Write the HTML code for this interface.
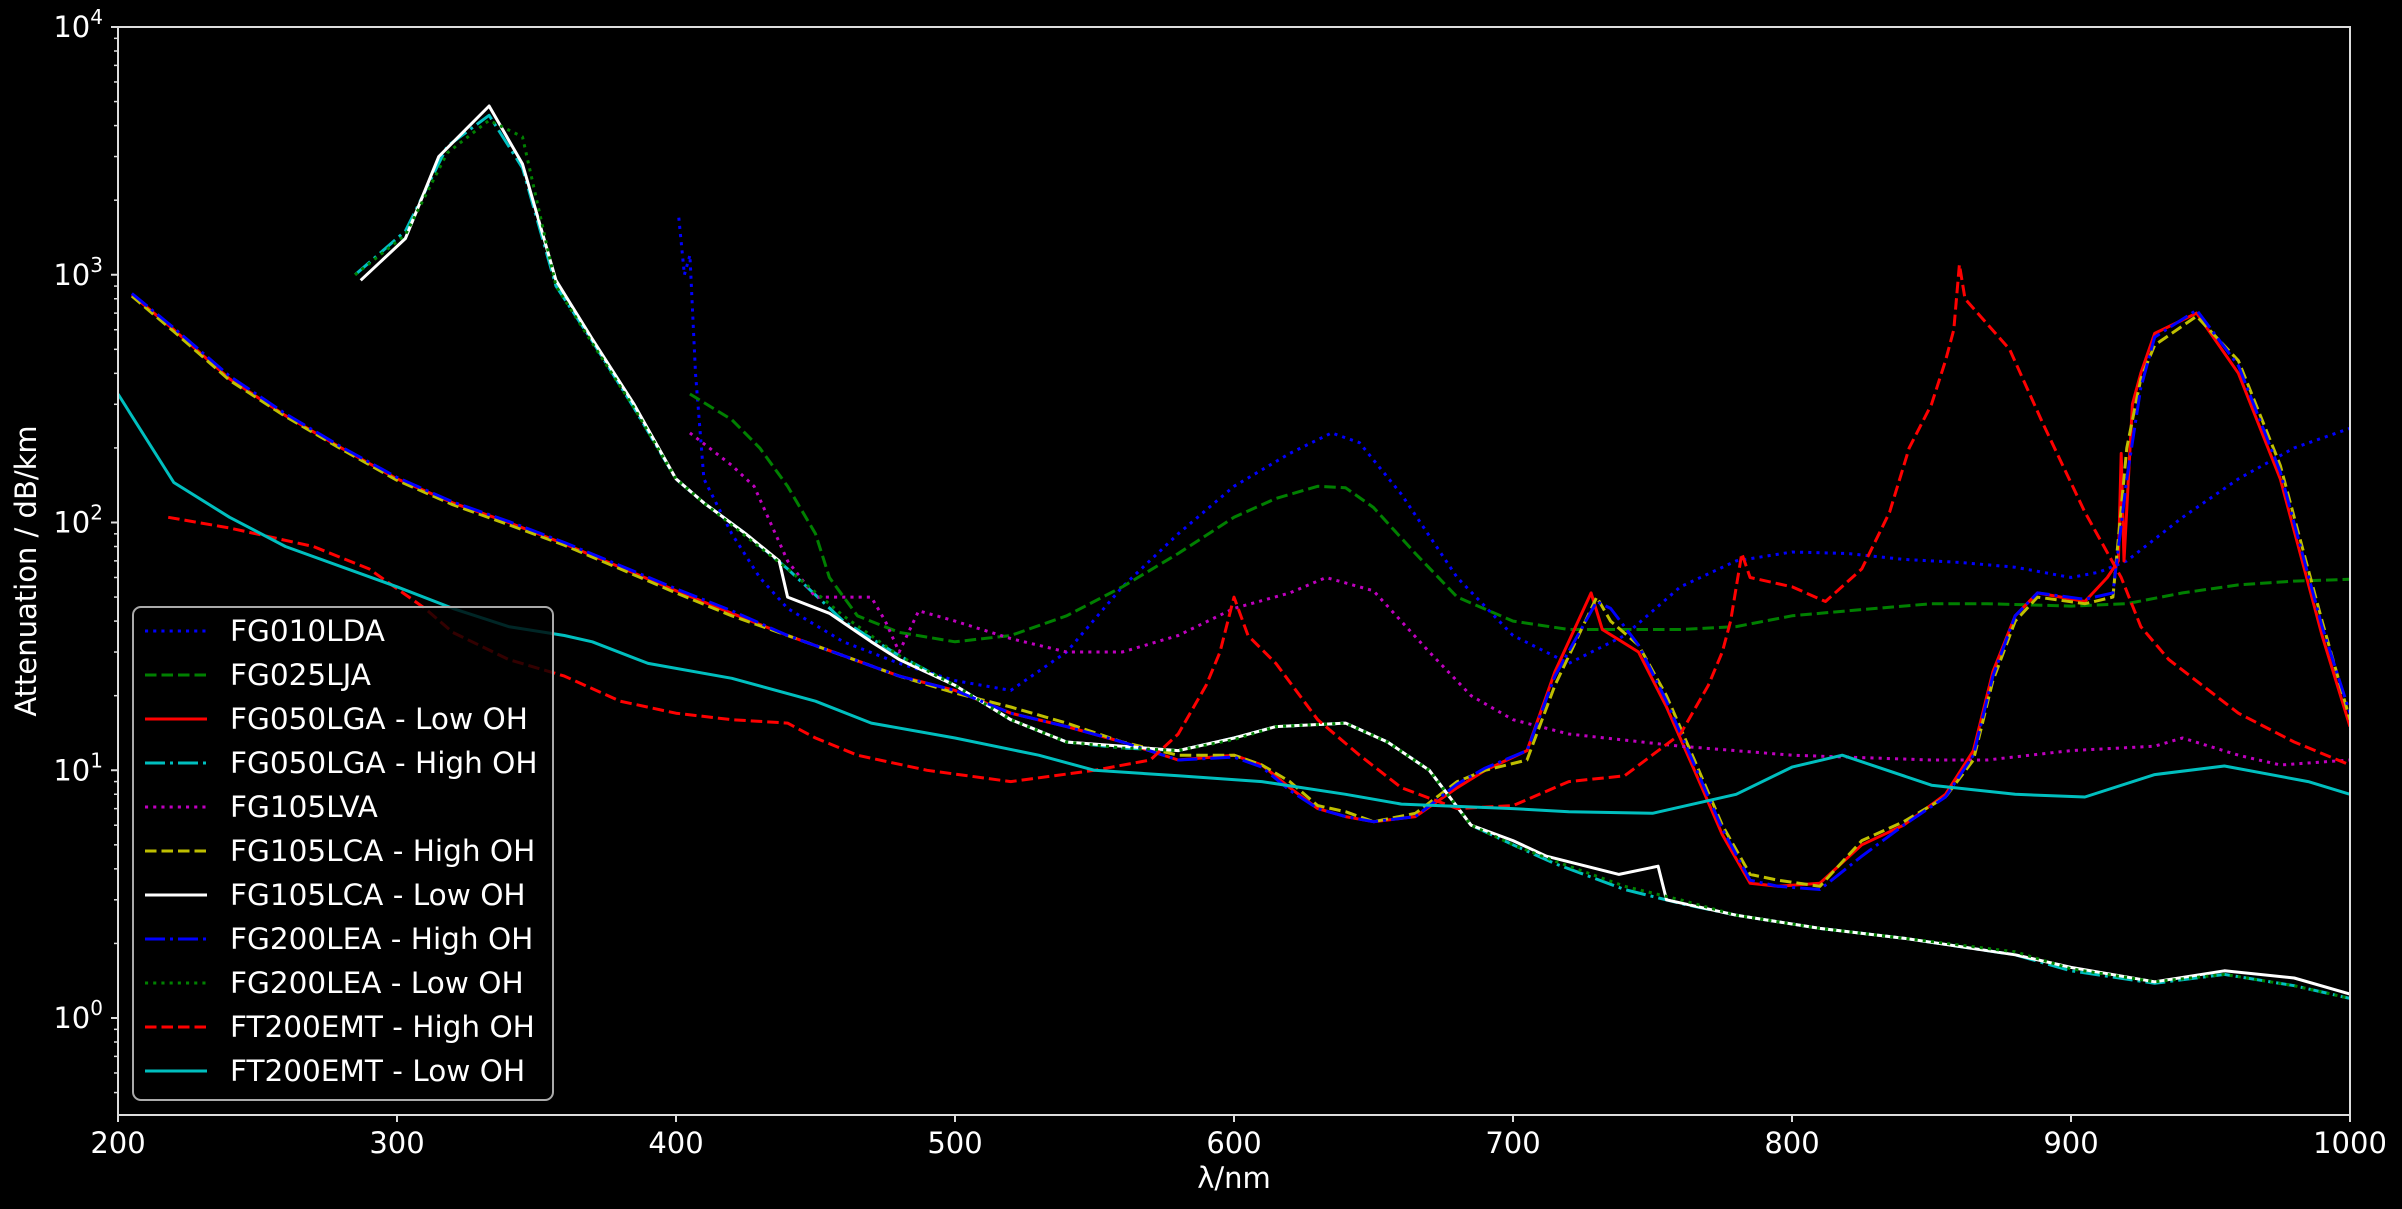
<!DOCTYPE html>
<html><head><meta charset="utf-8"><style>
html,body{margin:0;padding:0;background:#000;}
svg{display:block;font-family:"DejaVu Sans","Liberation Sans",sans-serif;}
</style></head><body>
<svg id="chart" width="2402" height="1209" viewBox="0 0 2402 1209" xmlns="http://www.w3.org/2000/svg">
<rect width="2402" height="1209" fill="#000"/>
<g id="plot"></g>
<g id="axes"></g>
<g id="legend"></g>
</svg>
<script>
const xTicks=[200,300,400,500,600,700,800,900,1000];
const yDecades=[0,1,2,3,4];
const names=["FG010LDA","FG025LJA","FG050LGA - Low OH","FG050LGA - High OH","FG105LVA","FG105LCA - High OH","FG105LCA - Low OH","FG200LEA - High OH","FG200LEA - Low OH","FT200EMT - High OH","FT200EMT - Low OH"];
const colors=["#0000ff","#008000","#ff0000","#00bfbf","#bf00bf","#bfbf00","#ffffff","#0000ff","#008000","#ff0000","#00bfbf"];
const styles=["dot","dash","solid","dashdot","dot","dash","solid","dashdot","dot","dash","solid"];
const wl0=[401,403,405,407,410,420,430,440,460,480,500,520,540,560,580,600,620,635,645,660,680,700,720,740,760,780,800,820,840,860,880,900,910,920,940,960,980,1000];
const at0=[1700,1000,1200,400,150,90,60,45,33,27,23,21,30,55,90,140,190,230,210,130,60,35,27,35,55,70,76,75,71,69,66,60,63,70,105,150,200,240];
const wl1=[405,420,430,440,450,455,465,480,500,520,540,560,580,600,615,630,640,650,665,680,700,720,760,780,800,820,850,870,900,920,940,960,980,1000];
const at1=[330,260,200,140,90,60,42,36,33,35,42,55,75,105,125,140,138,115,75,50,40,37,37,38,42,44,47,47,46,47,52,56,58,59];
const wl2=[205,220,240,260,280,300,320,340,360,380,400,420,440,460,480,500,520,540,560,580,600,610,620,630,640,650,665,680,690,705,715,728,732,745,755,765,775,785,795,810,825,840,855,865,872,880,888,905,913,917,918,919,922,925,930,945,960,975,990,1000];
const at2=[830,600,380,270,200,150,120,100,82,66,53,43,35,29,24,21,17,15,13,11,11.5,10.5,8.5,7,6.5,6.2,6.5,8.5,10,12,25,52,37,30,18,10,5.5,3.5,3.4,3.5,5,6,8,12,25,42,52,48,60,70,190,70,300,400,580,700,400,150,35,15];
const wl3=[285,303,318,333,345,357,370,385,400,410,425,440,460,480,500,520,540,560,580,600,615,640,655,670,685,700,715,740,760,780,810,840,880,900,930,955,980,1000];
const at3=[1000,1500,3300,4400,2700,900,540,290,150,120,90,65,40,29,22,16,13,12.3,12,13.5,15,15.5,13,10,6,5,4.2,3.3,2.9,2.6,2.3,2.1,1.8,1.55,1.38,1.5,1.35,1.2];
const wl4=[405,420,428,440,450,470,475,480,487,500,520,540,560,580,600,620,633,650,670,685,700,720,760,800,850,870,900,930,940,960,975,1000];
const at4=[230,170,140,70,50,50,40,30,44,40,34,30,30,35,45,52,60,53,30,20,16,14,12.5,11.5,11,11,12,12.5,13.5,11.5,10.5,11];
const wl5=[205,220,240,260,280,300,320,340,360,380,400,420,440,460,480,500,520,540,560,580,600,610,620,630,640,650,665,680,690,705,715,730,735,745,755,765,775,785,795,810,825,840,855,865,872,880,888,905,915,920,925,930,945,960,975,990,1000];
const at5=[820,590,375,268,198,148,118,98,81,65,52,42,35,29,24,20.5,18,15.5,13,11.5,11.5,10.5,9,7.2,6.8,6.2,6.7,9,10,11,22,50,40,32,20,11,6,3.8,3.6,3.4,5.2,6.2,7.8,11,23,40,50,47,50,200,380,520,680,450,170,40,16];
const wl6=[287,303,315,333,345,357,370,385,400,410,425,437,440,455,470,480,500,520,540,560,580,600,615,640,655,670,685,700,712,738,752,755,780,810,840,880,900,930,955,980,1000];
const at6=[950,1400,3000,4800,2800,950,550,300,150,120,90,70,50,43,33,28,22,16,13,12.5,12,13.5,15,15.5,13,10,6,5.2,4.5,3.8,4.1,3,2.6,2.3,2.1,1.8,1.6,1.4,1.55,1.45,1.25];
const wl7=[205,220,240,260,280,300,320,340,360,380,400,420,440,460,480,500,520,540,560,580,600,610,620,630,640,650,665,680,690,705,715,730,735,745,755,765,775,785,795,810,825,840,855,865,872,880,888,905,915,920,925,930,945,960,975,990,1000];
const at7=[840,610,390,275,202,152,121,101,83,67,54,44,35,29,24,21,17,15,13,11,11.3,10.3,8.3,7,6.5,6.2,6.5,8.8,10.2,12,24,48,45,32,19,10.5,5.8,3.6,3.4,3.3,4.5,6,7.8,11.5,24,42,52,49,52,150,350,560,720,430,160,38,17];
const wl8=[285,303,318,333,345,357,370,385,400,410,425,440,460,480,500,520,540,560,580,600,615,640,655,670,685,700,715,740,760,780,810,840,880,900,930,955,980,1000];
const at8=[1000,1450,3100,4200,3600,900,530,290,150,120,88,65,42,29,22,16,13,12.3,12,13.3,15,15.5,13,10,6,5,4.3,3.4,3,2.6,2.3,2.1,1.85,1.58,1.4,1.5,1.35,1.2];
const wl9=[218,240,270,290,310,320,340,360,380,400,420,440,450,465,490,520,550,570,580,590,595,600,605,615,630,645,660,680,700,720,740,760,770,775,778,782,785,800,812,825,835,842,850,855,858,860,862,878,890,905,918,925,935,960,980,1000];
const at9=[105,95,80,65,45,36,28,24,19,17,16,15.5,13.5,11.5,10,9,10,11,14,22,30,50,35,27,16,11.5,8.5,7,7.2,9,9.5,14,22,30,40,75,60,55,48,65,110,200,300,450,600,1100,800,500,250,110,60,38,28,17,13,10.5];
const wl10=[200,220,240,260,300,320,340,360,370,390,420,450,470,500,530,550,580,610,640,660,700,720,750,780,800,818,850,880,905,930,955,985,1000];
const at10=[330,145,105,80,55,45,38,35,33,27,23.5,19,15.5,13.5,11.5,10,9.5,9,8,7.3,7,6.8,6.7,8,10.3,11.5,8.7,8,7.8,9.6,10.4,9,8];
const WL=[wl0,wl1,wl2,wl3,wl4,wl5,wl6,wl7,wl8,wl9,wl10];
const AT=[at0,at1,at2,at3,at4,at5,at6,at7,at8,at9,at10];

const X0=118,X1=2350,Y0=27,Y1=1115,yTop=4,dec=247.75;
const xs=v=>X0+(v-200)/800*(X1-X0);
const ys=v=>Y0+(yTop-Math.log10(v))*dec;
const NS="http://www.w3.org/2000/svg";
function mk(tag,attrs,parent){const e=document.createElementNS(NS,tag);for(const k in attrs)e.setAttribute(k,attrs[k]);parent.appendChild(e);return e;}
const dashes={solid:"",dash:"11.5 5",dot:"3.1 5.1",dashdot:"20 5 3 5"};
const plot=document.getElementById('plot');
const cp=mk('clipPath',{id:'clip'},plot);mk('rect',{x:X0,y:Y0,width:X1-X0,height:Y1-Y0},cp);
const pg=mk('g',{'clip-path':'url(#clip)'},plot);
for(let i=0;i<names.length;i++){
  const d=WL[i].map((w,j)=>(j?'L':'M')+xs(w).toFixed(1)+' '+ys(AT[i][j]).toFixed(1)).join(' ');
  const p=mk('path',{d:d,fill:'none',stroke:colors[i],'stroke-width':3,'stroke-dasharray':dashes[styles[i]],'stroke-linejoin':'round'},pg);
  
  
}
const ax=document.getElementById('axes');
const frame=mk('rect',{x:X0,y:Y0,width:X1-X0,height:Y1-Y0,fill:'none',stroke:'#ddd','stroke-width':2},ax);


xTicks.forEach(t=>{
  const x=xs(t);
  mk('line',{x1:x,y1:Y1,x2:x,y2:Y1+7,stroke:'#ddd','stroke-width':2},ax);
  const tx=mk('text',{x:x,y:Y1+38,fill:'#fff','font-size':29,'text-anchor':'middle'},ax);
  tx.textContent=t;
  
  
});
for(let d=-1;d<=3;d++){for(let m=2;m<=9;m++){const v=m*Math.pow(10,d);const y=ys(v);if(y>Y1||y<Y0)continue;mk('line',{x1:X0,y1:y,x2:X0-4,y2:y,stroke:'#ddd','stroke-width':1.5},ax);}}
yDecades.forEach(e=>{
  const y=ys(Math.pow(10,e));
  mk('line',{x1:X0,y1:y,x2:X0-7,y2:y,stroke:'#ddd','stroke-width':2},ax);
  const tx=mk('text',{x:103,y:y+10,fill:'#fff','font-size':29,'text-anchor':'end'},ax);
  tx.innerHTML='10<tspan font-size="20" dy="-13">'+e+'</tspan>';
  
  
});
const xl=mk('text',{x:(X0+X1)/2,y:1188,fill:'#fff','font-size':29,'text-anchor':'middle'},ax);
xl.textContent='λ/nm';


const yl=mk('text',{x:0,y:0,fill:'#fff','font-size':29,'text-anchor':'middle',transform:'translate(36 '+((Y0+Y1)/2)+') rotate(-90)'},ax);
yl.textContent='Attenuation / dB/km';


const lg=document.getElementById('legend');


mk('rect',{x:133,y:607,width:420,height:493,rx:8,fill:'#000','fill-opacity':0.8,stroke:'#aaa','stroke-width':2},lg);
names.forEach((n,i)=>{
  const y=631+i*44;
  const g=mk('g',{},lg);
  
  
  mk('line',{x1:145,y1:y,x2:207,y2:y,stroke:colors[i],'stroke-width':3,'stroke-dasharray':dashes[styles[i]]},g);
  const t=mk('text',{x:230,y:y+10,fill:'#fff','font-size':29.5},g);
  t.textContent=n;
});
</script>
</body></html>
